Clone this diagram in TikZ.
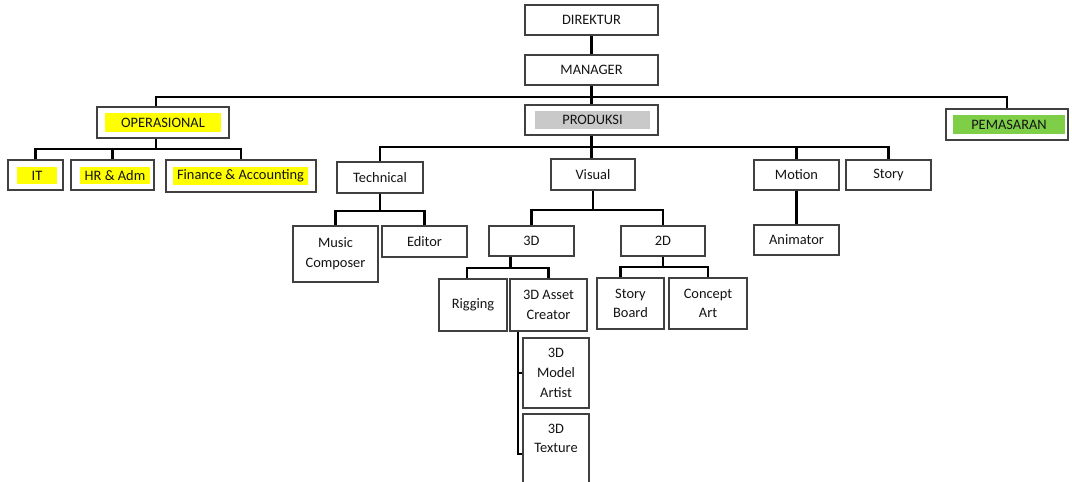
\documentclass[tikz,border=0pt]{standalone}
\usepackage{fontspec}
\setmainfont{Carlito}
\definecolor{hlyellow}{RGB}{255,255,0}
\definecolor{hlgrey}{RGB}{201,201,201}
\definecolor{hlgreen}{RGB}{126,206,72}
\tikzset{
    lbl/.style={inner sep=0pt, align=center, text=black!92, font=\fontsize{8.2}{11.2}\selectfont},
    box/.style 2 args={draw=black!75, line width=0.8pt, fill=white, lbl, minimum width=#1, minimum height=#2},
    hl/.style n args={3}{fill=#1, lbl, minimum width=#2, minimum height=#3},
    conn/.style={line width=1.3pt}
}
\begin{document}
\begin{tikzpicture}[x=0.02cm, y=-0.02cm]
    \clip (0,0) rectangle (1072,482);
    \fill[white] (0,0) rectangle (1072,482);

    % Top
    \node[box={2.66cm}{0.6cm}] (dir) at (591.5,20) {DIREKTUR};
    \node[box={2.66cm}{0.6cm}] (mgr) at (591.5,70) {MANAGER};
    \node[box={2.66cm}{0.6cm}] (prod) at (591.5,120) {};
    \node[hl={hlgrey}{2.3cm}{0.36cm}] (prod-t) at (592.5,120) {PRODUKSI};
    \node[box={2.64cm}{0.62cm}] (oper) at (163,122.5) {};
    \node[hl={hlyellow}{2.32cm}{0.38cm}] (oper-t) at (163,122.5) {OPERASIONAL};
    \node[box={2.44cm}{0.62cm}] (pem) at (1007,124.5) {};
    \node[hl={hlgreen}{2.24cm}{0.38cm}] (pem-t) at (1009,124.5) {PEMASARAN};

    % Operasional
    \node[box={1.1cm}{0.6cm}] (it) at (35.5,175) {};
    \node[hl={hlyellow}{0.8cm}{0.34cm}] (it-t) at (37,175.5) {IT};
    \node[box={1.66cm}{0.6cm}] (hr) at (112.5,175) {};
    \node[hl={hlyellow}{1.4cm}{0.34cm}] (hr-t) at (115,175.5) {HR \& Adm};
    \node[box={3.0cm}{0.64cm}] (fin) at (241,176) {};
    \node[hl={hlyellow}{2.7cm}{0.36cm}] (fin-t) at (240.5,176) {Finance \& Accounting};

    % Produksi
    \node[box={1.72cm}{0.62cm}] (tech) at (380,177.5) {Technical};
    \node[box={1.68cm}{0.62cm}] (vis) at (593,174.5) {Visual};
    \node[box={1.7cm}{0.6cm}] (mot) at (796.5,175) {Motion};
    \node[box={1.7cm}{0.6cm}] (story) at (888.5,175) {Story};
    \node[box={1.7cm}{0.6cm}] (anim) at (796.5,240) {Animator};

    \node[box={1.7cm}{1.12cm}] (music) at (335.5,254) {Music\\Composer};
    \node[box={1.7cm}{0.62cm}] (editor) at (424.5,241.5) {Editor};

    \node[box={1.7cm}{0.6cm}] (d3) at (531.5,241) {3D};
    \node[box={1.68cm}{0.6cm}] (d2) at (663,241) {2D};
    \node[box={1.36cm}{1.04cm}] (rig) at (473,305) {Rigging};
    \node[box={1.54cm}{1.04cm}] (asset) at (548.5,305) {3D Asset\\Creator};
    \node[box={1.34cm}{1.02cm}] (sb) at (630.5,303.5) {Story\\Board};
    \node[box={1.56cm}{1.02cm}] (ca) at (708,303.5) {Concept\\Art};

    \node[box={1.32cm}{1.4cm}] (model) at (556,373) {3D\\Model\\Artist};
    \node[box={1.32cm}{1.6cm}] (texture) at (556,454) {};
    \node[lbl] (texture-t) at (556,438.5) {3D\\Texture};

    % Bus lines
    \coordinate (bus1) at (0,97);
    \coordinate (bus2) at (0,149);
    \coordinate (bus3) at (0,147);
    \coordinate (bus4) at (0,211);
    \coordinate (bus5) at (0,210);
    \coordinate (bus6) at (0,268);
    \coordinate (bus7) at (0,267);
    \coordinate (oper-top) at ([xshift=-0.14cm]oper.north);
    \coordinate (oper-bot) at ([xshift=-0.14cm]oper.south);
    \coordinate (d3-bot) at ([xshift=-0.42cm]d3.south);
    \coordinate (rig-top) at ([xshift=-0.12cm]rig.north);
    \coordinate (sb-top) at ([xshift=-0.2cm]sb.north);
    \coordinate (asset-bot) at ([xshift=-0.61cm]asset.south);

    % Connectors
    \draw[conn] (dir) -- (mgr);
    \draw[conn] (mgr) -- (prod);
    \draw[conn] (oper-top) |- (bus1 -| pem.north) -- (pem.north);

    \draw[conn] (oper-bot) -- (oper-bot |- bus2);
    \draw[conn] (it.north) |- (bus2 -| fin.north) -- (fin.north);
    \draw[conn] (hr.north) -- (hr.north |- bus2);

    \draw[conn] (prod.south) -- (prod.south |- vis.north);
    \draw[conn] (tech.north) |- (bus3 -| story.north) -- (story.north);
    \draw[conn] (mot.north) -- (mot.north |- bus3);
    \draw[conn] (mot) -- (anim);

    \draw[conn] (tech.south) -- (tech.south |- bus4);
    \draw[conn] (music.north) |- (bus4 -| editor.north) -- (editor.north);

    \draw[conn] (vis.south) -- (vis.south |- bus5);
    \draw[conn] (d3.north) |- (bus5 -| d2.north) -- (d2.north);

    \draw[conn] (d3-bot) -- (d3-bot |- bus6);
    \draw[conn] (rig-top) |- (bus6 -| asset.north) -- (asset.north);
    \draw[conn] (d2.south) -- (d2.south |- bus7);
    \draw[conn] (sb-top) |- (bus7 -| ca.north) -- (ca.north);

    \draw[conn] (asset-bot) |- (model.west);
    \draw[conn] (asset-bot) |- (texture.west);
\end{tikzpicture}
\end{document}
